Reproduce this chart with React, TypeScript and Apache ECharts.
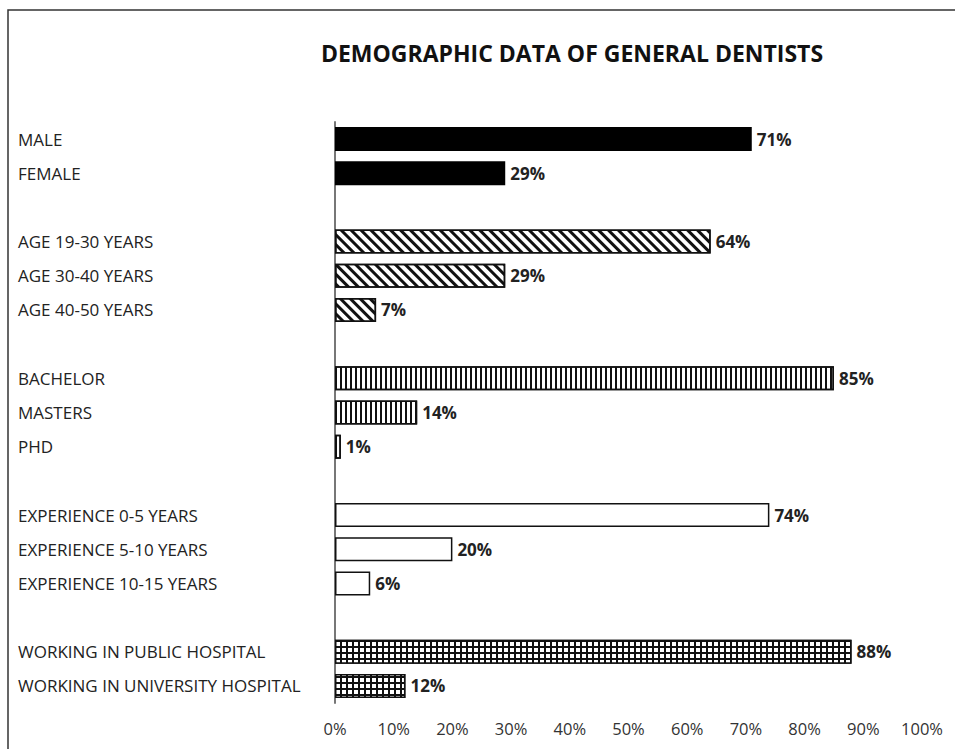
import React, { useEffect, useRef } from "react";
import * as echarts from "echarts";

// Category labels, grouped as they appear from top to bottom
const genderLabels = ["MALE", "FEMALE"];
const ageLabels = ["AGE 19-30 YEARS", "AGE 30-40 YEARS", "AGE 40-50 YEARS"];
const educationLabels = ["BACHELOR", "MASTERS", "PHD"];
const experienceLabels = ["EXPERIENCE 0-5 YEARS", "EXPERIENCE 5-10 YEARS", "EXPERIENCE 10-15 YEARS"];
const workplaceLabels = ["WORKING IN PUBLIC HOSPITAL", "WORKING IN UNIVERSITY HOSPITAL"];

// Percentages per group
const genderValues = [71, 29];
const ageValues = [64, 29, 7];
const educationValues = [85, 14, 1];
const experienceValues = [74, 20, 6];
const workplaceValues = [88, 12];

const xTicks = [0, 10, 20, 30, 40, 50, 60, 70, 80, 90, 100];

const FONT = "'Open Sans', 'Noto Sans', sans-serif";

const solidStyle = { color: "#000", borderColor: "#000", borderWidth: 0 };
const diagonalStyle = {
  color: "#fff",
  borderColor: "#111",
  borderWidth: 1.5,
  decal: {
    symbol: "rect",
    color: "#111",
    backgroundColor: "rgba(0,0,0,0)",
    dashArrayX: [2.6, 3.8],
    dashArrayY: [10, 0],
    rotation: -Math.PI / 4,
    symbolSize: 1,
  },
};
const verticalStyle = {
  color: "#fff",
  borderColor: "#111",
  borderWidth: 1.5,
  decal: {
    symbol: "rect",
    color: "#111",
    backgroundColor: "rgba(0,0,0,0)",
    dashArrayX: [2, 2.4],
    dashArrayY: [10, 0],
    rotation: 0,
    symbolSize: 1,
  },
};
const plainStyle = { color: "#fff", borderColor: "#111", borderWidth: 1.5 };
const gridStyle = {
  color: "#111",
  borderColor: "#111",
  borderWidth: 1.5,
  decal: {
    symbol: "rect",
    color: "#fff",
    backgroundColor: "rgba(0,0,0,0)",
    dashArrayX: [3.3, 1.2],
    dashArrayY: [3.3, 1.2],
    rotation: 0,
    symbolSize: 1,
  },
};

const groups = [
  { labels: genderLabels, values: genderValues, style: solidStyle },
  { labels: ageLabels, values: ageValues, style: diagonalStyle },
  { labels: educationLabels, values: educationValues, style: verticalStyle },
  { labels: experienceLabels, values: experienceValues, style: plainStyle },
  { labels: workplaceLabels, values: workplaceValues, style: gridStyle },
];

const categories: string[] = [];
const barData: any[] = [];
groups.forEach((g, gi) => {
  if (gi > 0) {
    // blank spacer row between groups (unique whitespace keeps categories distinct)
    categories.push(" ".repeat(gi));
    barData.push("-");
  }
  g.labels.forEach((label, i) => {
    categories.push(label);
    barData.push({ value: g.values[i], itemStyle: g.style });
  });
});

export default function App() {
  const ref = useRef<HTMLDivElement>(null);

  useEffect(() => {
    if (!ref.current) return;
    const chart = echarts.init(ref.current, null, { renderer: "svg" });
    chart.setOption({
      animation: false,
      backgroundColor: "#fff",
      textStyle: { fontFamily: FONT },
      title: {
        text: "DEMOGRAPHIC DATA OF GENERAL DENTISTS",
        left: 567,
        top: 36,
        textAlign: "center",
        textStyle: { fontFamily: FONT, fontSize: 23, fontWeight: "bold", color: "#111" },
      },
      graphic: [
        {
          type: "rect",
          shape: { x: 8, y: 10, width: 1000, height: 1000 },
          style: { fill: "none", stroke: "#333", lineWidth: 1.5 },
          silent: true,
        },
      ],
      grid: { left: 335, right: 33, top: 122, bottom: 46, containLabel: false },
      xAxis: {
        type: "value",
        min: xTicks[0],
        max: xTicks[xTicks.length - 1],
        interval: xTicks[1] - xTicks[0],
        axisLine: { show: false },
        axisTick: { show: false },
        splitLine: { show: false },
        axisLabel: {
          formatter: "{value}%",
          fontFamily: FONT,
          fontSize: 16.5,
          color: "#333",
          margin: 17,
        },
      },
      yAxis: {
        type: "category",
        data: categories,
        inverse: true,
        axisLine: { show: true, lineStyle: { color: "#777", width: 2 } },
        axisTick: { show: false },
        splitLine: { show: false },
        axisLabel: {
          align: "left",
          margin: 317,
          fontFamily: FONT,
          fontSize: 17,
          color: "#222",
        },
      },
      series: [
        {
          type: "bar",
          data: barData,
          barWidth: 24,
          label: {
            show: true,
            position: "right",
            distance: 5,
            formatter: "{c}%",
            fontFamily: FONT,
            fontSize: 17,
            fontWeight: "bold",
            color: "#222",
          },
        },
      ],
    });
    return () => chart.dispose();
  }, []);

  return (
    <div
      ref={ref}
      style={{ position: "fixed", left: 0, top: 0, width: 955, height: 749 }}
    />
  );
}
